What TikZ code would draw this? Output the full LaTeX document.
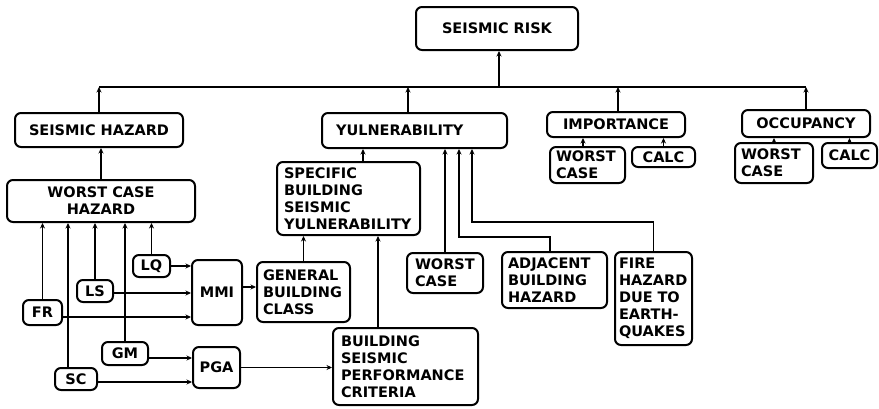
\documentclass[tikz,border=0pt]{standalone}
\usepackage{fontspec}
\setmainfont{DejaVu Sans}
\usetikzlibrary{arrows.meta}

\begin{document}
\begin{tikzpicture}[
        x=1pt, y=-1pt,
        block/.style={
            rectangle,
            draw,
            line width=2pt,
            rounded corners=6pt,
            align=center,
            inner sep=0pt,
            font=\bfseries\fontsize{14.5}{17}\selectfont
        },
        leftblock/.style={
            block,
            align=left
        },
        arrow/.style={
            -{Stealth[length=5.5pt,width=5pt]},
            line width=1.6pt
        },
        line/.style={
            line width=1.6pt
        }
    ]
        \useasboundingbox (0,0) rectangle (879,408);

        % Top of the tree
        \node[block, minimum width=162, minimum height=43] (risk) at (497,28.5) {SEISMIC RISK};

        % Second level
        \node[block, minimum width=168, minimum height=34] (hazard) at (99,130) {SEISMIC HAZARD};
        \node[leftblock, inner xsep=14, text width=157, minimum height=35] (vuln) at (414.5,130.5) {YULNERABILITY};
        \node[block, minimum width=138, minimum height=25] (importance) at (616,124.5) {IMPORTANCE};
        \node[block, minimum width=128, minimum height=27] (occupancy) at (806,123.5) {OCCUPANCY};

        % Importance and occupancy inputs
        \node[leftblock, inner xsep=6, text width=63, minimum height=36] (impworst) at (587.5,165) {WORST\\CASE};
        \node[block, minimum width=63, minimum height=20] (impcalc) at (663.5,157) {CALC};
        \node[leftblock, inner xsep=6, text width=66, minimum height=40] (occworst) at (774,163) {WORST\\CASE};
        \node[block, minimum width=55, minimum height=25] (occcalc) at (849.5,155.5) {CALC};

        % Hazard branch
        \node[block, minimum width=188, minimum height=42] (worsthaz) at (101,201) {WORST CASE\\HAZARD};
        \node[block, minimum width=39, minimum height=25] (fr) at (42.5,312.5) {FR};
        \node[block, minimum width=42, minimum height=22] (sc) at (76,379) {SC};
        \node[block, minimum width=36, minimum height=22] (ls) at (95,291) {LS};
        \node[block, minimum width=46, minimum height=23] (gm) at (125,353.5) {GM};
        \node[block, minimum width=37, minimum height=22] (lq) at (151.5,266) {LQ};
        \node[block, minimum width=50, minimum height=65] (mmi) at (217,292.5) {MMI};
        \node[block, minimum width=47, minimum height=41] (pga) at (216.5,367.5) {PGA};

        % Vulnerability branch
        \node[leftblock, inner xsep=6, text width=81, minimum height=60] (general) at (303.5,292) {GENERAL\\BUILDING\\CLASS};
        \node[leftblock, inner xsep=7, text width=129, minimum height=73] (specific) at (348.5,198.5) {SPECIFIC\\BUILDING\\SEISMIC\\YULNERABILITY};
        \node[leftblock, inner xsep=8, text width=129, minimum height=77] (criteria) at (405.5,366.5) {BUILDING\\SEISMIC\\PERFORMANCE\\CRITERIA};
        \node[leftblock, inner xsep=8, text width=60, minimum height=40] (vworst) at (445,273) {WORST\\CASE};
        \node[leftblock, inner xsep=6, text width=93, minimum height=56] (adjacent) at (554.5,280) {ADJACENT\\BUILDING\\HAZARD};
        \node[leftblock, inner xsep=4, text width=69, minimum height=93] (fire) at (653.5,298.5) {FIRE\\HAZARD\\DUE TO\\EARTH-\\QUAKES};

        % Main bus into seismic risk
        \coordinate (bus) at (499,87);
        \draw[arrow] (bus) -- (bus |- risk.south);
        \draw[line] (hazard.north |- bus) -- (occupancy.north |- bus);
        \draw[arrow] (hazard.north) -- (hazard.north |- bus);
        \draw[arrow] ([xshift=-6.5]vuln.north) -- ([xshift=-6.5]vuln.north |- bus);
        \draw[arrow] ([xshift=2]importance.north) -- ([xshift=2]importance.north |- bus);
        \draw[arrow] (occupancy.north) -- (occupancy.north |- bus);

        % Short links under importance and occupancy
        \draw[arrow] ([xshift=-4.5]impworst.north) -- ([xshift=-4.5]impworst.north |- importance.south);
        \draw[arrow] (impcalc.north) -- (impcalc.north |- importance.south);
        \draw[arrow] (occworst.north) -- (occworst.north |- occupancy.south);
        \draw[arrow] (occcalc.north) -- (occcalc.north |- occupancy.south);

        % Hazard inputs
        \draw[arrow] (worsthaz.north) -- (worsthaz.north |- hazard.south);
        \draw[arrow] (fr.north) -- (fr.north |- worsthaz.south);
        \draw[arrow] ([xshift=-8]sc.north) -- ([xshift=-8]sc.north |- worsthaz.south);
        \draw[arrow] (ls.north) -- (ls.north |- worsthaz.south);
        \draw[arrow] (gm.north) -- (gm.north |- worsthaz.south);
        \draw[arrow] (lq.north) -- (lq.north |- worsthaz.south);

        % Into MMI and PGA
        \draw[arrow] (lq.east) -- (lq.east -| mmi.west);
        \draw[arrow] ([yshift=-2]ls.east) -- ([yshift=-2]ls.east -| mmi.west);
        \draw[arrow] ([yshift=-4.5]fr.east) -- ([yshift=-4.5]fr.east -| mmi.west);
        \draw[arrow] ([yshift=-4.5]gm.east) -- ([yshift=-4.5]gm.east -| pga.west);
        \draw[arrow] ([yshift=-3]sc.east) -- ([yshift=-3]sc.east -| pga.west);

        % Building vulnerability chain
        \draw[arrow] ([yshift=5.5]mmi.east) -- ([yshift=5.5]mmi.east -| general.west);
        \draw[arrow] (pga.east) -- (pga.east -| criteria.west);
        \draw[arrow] (general.north) -- (general.north |- specific.south);
        \draw[arrow] ([xshift=-27.5]criteria.north) -- ([xshift=-27.5]criteria.north |- specific.south);
        \draw[arrow] ([xshift=14.5]specific.north) -- ([xshift=14.5]specific.north |- vuln.south);
        \draw[arrow] (vworst.north) -- (vworst.north |- vuln.south);
        \draw[arrow] ([xshift=-4.5]adjacent.north) -- ++(0,-14) -| ([xshift=44.5]vuln.south);
        \draw[arrow] (fire.north) -- ++(0,-29) -| ([xshift=57.5]vuln.south);

    \end{tikzpicture}
\end{document}
